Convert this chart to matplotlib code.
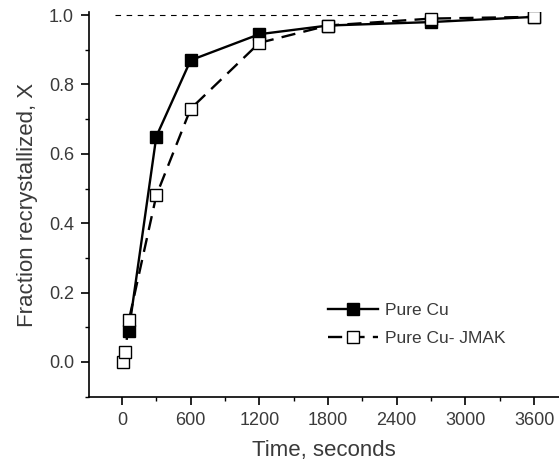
import matplotlib
matplotlib.use("Agg")
import matplotlib.pyplot as plt
from matplotlib.ticker import MultipleLocator

plt.rcParams['font.family'] = ['Liberation Sans', 'DejaVu Sans']

# measured data
pure_cu_t = [60, 300, 600, 1200, 1800, 2700, 3600]
pure_cu_x = [0.09, 0.65, 0.87, 0.945, 0.97, 0.98, 0.995]

jmak_t = [10, 30, 60, 300, 600, 1200, 1800, 2700, 3600]
jmak_x = [0.0, 0.03, 0.12, 0.48, 0.73, 0.92, 0.97, 0.99, 0.995]

ref_t = [-60, 2400]
ref_x = [1.0, 1.0]

xticks = [0, 600, 1200, 1800, 2400, 3000, 3600]
yticks = [0.0, 0.2, 0.4, 0.6, 0.8, 1.0]

fig = plt.figure(figsize=(5.59, 4.67), dpi=100)
ax = fig.add_axes([89 / 559, 70 / 467, 470 / 559, 385 / 467])

ax.plot(ref_t, ref_x, color='black', lw=0.8, linestyle=(0, (5, 5)))
ax.plot(pure_cu_t, pure_cu_x, color='black', lw=1.7, marker='s', ms=8.5,
        mfc='black', mec='black', mew=1.0, label='Pure Cu', zorder=3)
ax.plot(jmak_t, jmak_x, color='black', lw=1.7, linestyle=(0, (6, 3.5)),
        marker='s', ms=8.5, mfc='white', mec='black', mew=1.0,
        label='Pure Cu- JMAK', zorder=4)

ax.set_xlim(-288, 3818)
ax.set_ylim(-0.101, 1.009)
ax.set_xticks(xticks)
ax.set_yticks(yticks)
ax.set_yticklabels([f'{v:.1f}' for v in yticks])
ax.xaxis.set_minor_locator(MultipleLocator(300))
ax.yaxis.set_minor_locator(MultipleLocator(0.1))

for s in ['top', 'right']:
    ax.spines[s].set_visible(False)
for s in ['left', 'bottom']:
    ax.spines[s].set_linewidth(1.2)

ax.tick_params(which='major', direction='out', length=5.8, width=1.2,
               labelsize=13, labelcolor='#3a3a3a', pad=5)
ax.tick_params(which='minor', direction='out', length=3, width=1.0)

ax.set_xlabel('Time, seconds', fontsize=16, color='#3a3a3a', labelpad=8)
ax.set_ylabel('Fraction recrystallized, X', fontsize=16, color='#3a3a3a', labelpad=8)

ax.legend(loc='center left', bbox_to_anchor=(328 / 559, 1 - 324.5 / 467),
          bbox_transform=fig.transFigure, frameon=False, fontsize=12.5,
          borderpad=0, borderaxespad=0, handlelength=2.9, handletextpad=0.4,
          labelspacing=0.7, labelcolor='#3a3a3a')

fig.savefig('out.png', dpi=100)
